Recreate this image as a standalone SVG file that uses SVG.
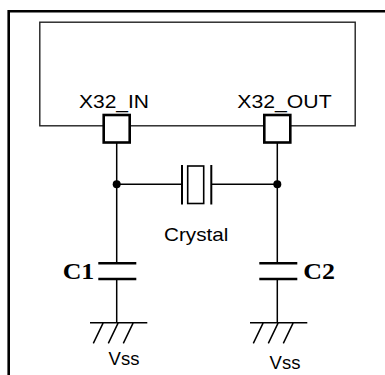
<svg xmlns="http://www.w3.org/2000/svg" width="385" height="375" viewBox="0 0 385 375">
<style>
.lbl{font-family:"Liberation Sans",Arial,sans-serif;font-size:18.5px;fill:#000}
.cap{font-family:"Liberation Serif","Times New Roman",serif;font-size:24px;font-weight:bold;fill:#000}
.w{stroke:#000;stroke-width:1.5;fill:none}
.plate{stroke:#000;stroke-width:2.6;fill:none}
.pin{stroke:#000;stroke-width:2.6;fill:#fff}
</style>
<rect width="385" height="375" fill="#fff"/>
<g id="frame">
<path d="M8.7 375 V11.3 H385" fill="none" stroke="#000" stroke-width="2.6"/>
</g>
<g id="chip">
<rect x="39.8" y="22.2" width="315.4" height="103.6" fill="#fff" stroke="#222" stroke-width="1.4"/>
<text class="lbl" x="79" y="108.3" textLength="70" lengthAdjust="spacingAndGlyphs">X32_IN</text>
<text class="lbl" x="237.3" y="108.3" textLength="94.3" lengthAdjust="spacingAndGlyphs">X32_OUT</text>
</g>
<g id="connectors">
<path class="w" d="M116.7 142.5 V263.3 M116.7 279 V322.7"/>
<path class="w" d="M277.3 142.5 V263.3 M277.3 279 V322.7"/>
<path class="w" d="M116.7 184.3 H182 M211.3 184.3 H277.3"/>
<circle cx="116.7" cy="184.3" r="4" fill="#000"/>
<circle cx="277.3" cy="184.3" r="4" fill="#000"/>
</g>
<g id="pin_in">
<rect class="pin" x="103.7" y="115" width="26" height="27.5"/>
</g>
<g id="pin_out">
<rect class="pin" x="264.3" y="115" width="26" height="27.5"/>
</g>
<g id="crystal">
<path d="M182 165 V204.5 M211.3 165 V204.5" stroke="#000" stroke-width="2" fill="none"/>
<rect x="187.7" y="166" width="16" height="37.5" fill="#fff" stroke="#000" stroke-width="1.6"/>
<text class="lbl" x="164" y="241" textLength="64.3" lengthAdjust="spacingAndGlyphs">Crystal</text>
</g>
<g id="c1">
<path class="plate" d="M98.3 263.3 H136.3 M98.3 279 H136.3"/>
<text class="cap" x="62.7" y="279.3" textLength="31.6" lengthAdjust="spacingAndGlyphs">C1</text>
</g>
<g id="c2">
<path class="plate" d="M259.3 263.3 H297.3 M259.3 279 H297.3"/>
<text class="cap" x="303.3" y="279.3" textLength="31.7" lengthAdjust="spacingAndGlyphs">C2</text>
</g>
<g id="vss1">
<path class="w" d="M90 322.7 H147.3 M103.3 322.7 L93.3 343.3 M118.3 322.7 L108.3 343.3 M133.3 322.7 L123.3 343.3"/>
<text class="lbl" x="124" y="365" text-anchor="middle">Vss</text>
</g>
<g id="vss2">
<path class="w" d="M250 322.7 H307.3 M263.3 322.7 L253.3 343.3 M278.3 322.7 L268.3 343.3 M293.3 322.7 L283.3 343.3"/>
<text class="lbl" x="285" y="369.3" text-anchor="middle">Vss</text>
</g>
</svg>
